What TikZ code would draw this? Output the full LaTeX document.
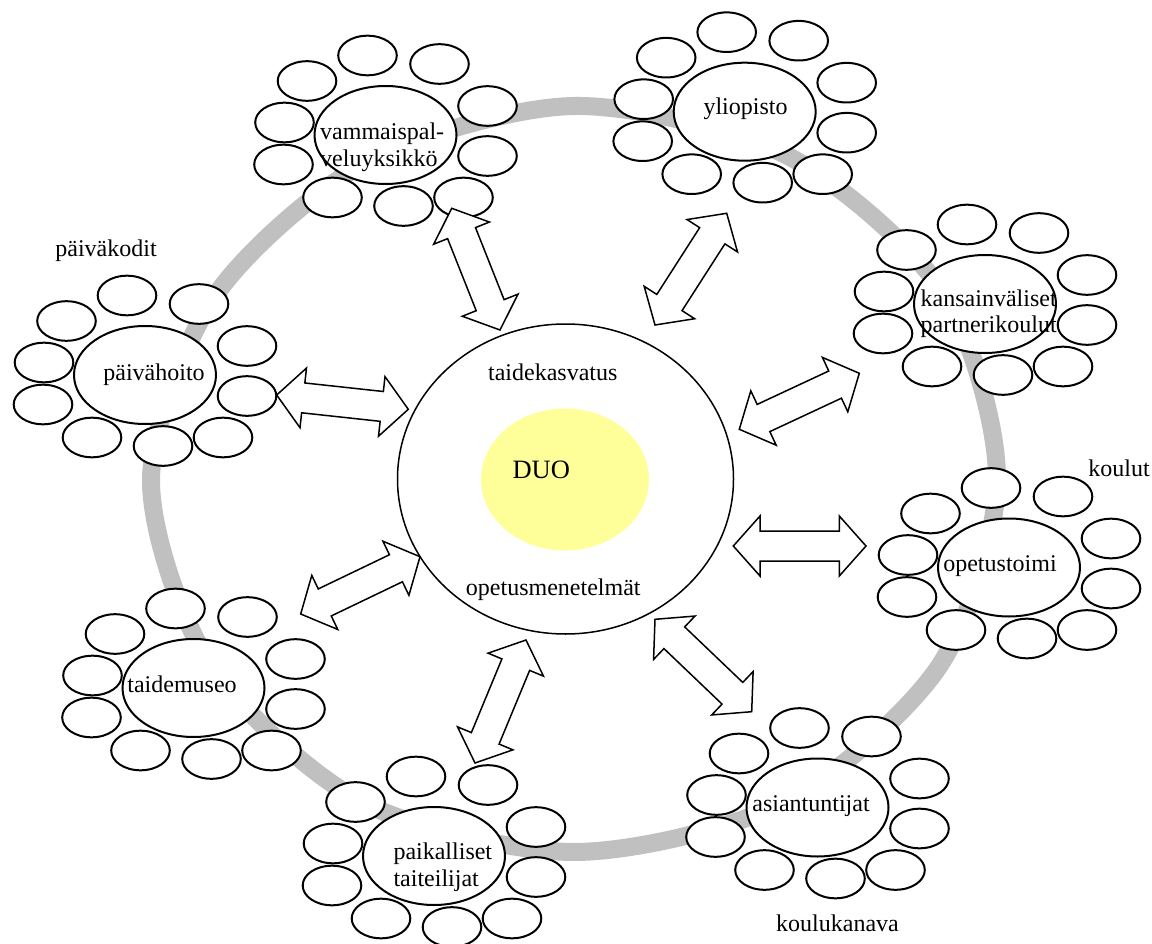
\documentclass[tikz,border=0pt]{standalone}
\usepackage{fontspec}
\setmainfont{Liberation Serif}
\usetikzlibrary{calc,shapes.geometric}

\definecolor{ringgray}{RGB}{192,192,192}
\definecolor{duoyellow}{RGB}{255,255,153}

% head length, head half width, shaft half width of the double arrows
\newcommand\ahl{26.7pt}
\newcommand\ahw{30pt}
\newcommand\asw{15pt}

\tikzset{
  ring/.style={draw=ringgray, line width=18pt},
  satellite/.style={draw, line width=2pt, fill=white},
  hub/.style={draw, line width=2pt, fill=white, ellipse, inner sep=0pt,
              minimum width=142pt, minimum height=98pt},
  txt/.style={font=\fontsize{24}{27}\selectfont, inner sep=0pt},
  arrowbox/.style={draw, line width=1.5pt, fill=white, line join=miter},
  pics/cluster/.style={code={
    \foreach \dx/\dy in {-78.5/-54, -18/-79.5, 54/-71, 102/-29, 102/21,
                         78/62.5, 18/71, -53/62.5, -102/29.5, -101/-12.5}
      \draw[satellite] (\dx,\dy) ellipse [x radius=29.3, y radius=19.8];
    \node[hub] (-hub) at (0,0) {};
  }}
}

% outlined double-headed block arrow between two named points
\newcommand\biarrow[2]{%
  \draw[arrowbox]
    (#1)
    -- ($(#1)!\ahl!(#2)!\ahw!90:(#2)$)
    -- ($(#1)!\ahl!(#2)!\asw!90:(#2)$)
    -- ($(#2)!\ahl!(#1)!\asw!-90:(#1)$)
    -- ($(#2)!\ahl!(#1)!\ahw!-90:(#1)$)
    -- (#2)
    -- ($(#2)!\ahl!(#1)!\ahw!90:(#1)$)
    -- ($(#2)!\ahl!(#1)!\asw!90:(#1)$)
    -- ($(#1)!\ahl!(#2)!\asw!-90:(#2)$)
    -- ($(#1)!\ahl!(#2)!\ahw!-90:(#2)$)
    -- cycle;}

\begin{document}
\begin{tikzpicture}[x=1pt, y=-1pt]
  \useasboundingbox (0,0) rectangle (1152,944);
  \fill[white] (0,0) rectangle (1152,944);

  % grey ring joining the partners
  \draw[ring] plot[smooth cycle] coordinates {
    (574,106) (786,155) (942,291) (997,479) (940,665) (785,802)
    (574,852) (362,802) (210,664) (151,479) (215,296) (367,162)};

  % partner clusters
  \pic (vam) at (385.5,135)   {cluster};
  \pic (yli) at (744.7,111.7) {cluster};
  \pic (kan) at (985,304)     {cluster};
  \pic (pvh) at (145,375)     {cluster};
  \pic (ope) at (1009,567.5)  {cluster};
  \pic (tmu) at (193.5,688)   {cluster};
  \pic (pai) at (434,856)     {cluster};
  \pic (asi) at (817.5,807.5) {cluster};

  % centre
  \node[draw, ellipse, line width=1.5pt, fill=white, inner sep=0pt,
        minimum width=336pt, minimum height=310pt] (duo) at (565.5,479) {};
  \node[ellipse, fill=duoyellow, inner sep=0pt,
        minimum width=168pt, minimum height=142pt] (core) at (565,479.5) {};

  \node[txt, anchor=base] (taide) at (552.8,380) {taidekasvatus};
  \node[txt, font=\fontsize{26.5}{30}\selectfont, anchor=base] (duotext) at (541.3,478) {DUO};
  \node[txt, anchor=base] (menet) at (553.3,595) {opetusmenetelmät};

  % cluster labels (two-line labels are anchored at their last baseline)
  \node[txt, anchor=base] (l-pvh) at (154,380) {päivähoito};
  \node[txt, anchor=base] (l-yli) at (745.5,115) {yliopisto};
  \node[txt, anchor=base] (l-ope) at (1000,571.7) {opetustoimi};
  \node[txt, anchor=base] (l-tmu) at (182,692) {taidemuseo};
  \node[txt, anchor=base] (l-asi) at (811,811) {asiantuntijat};
  \node[txt, align=left, anchor=base west] (l-kan) at (920.5,333) {kansainväliset\\partnerikoulut};
  \node[txt, align=left, anchor=base west] (l-pai) at (393.3,886.5) {paikalliset\\taiteilijat};
  \node[txt, align=left, anchor=base west] (l-vam) at (320,167) {vammaispal-\\veluyksikkö};

  \node[txt, anchor=base] (l-pk) at (106,257) {päiväkodit};
  \node[txt, anchor=base] (l-ko) at (1119,476) {koulut};
  \node[txt, anchor=base] (l-kk) at (837.5,931) {koulukanava};

  % arrow end points
  \coordinate (vamA) at (451.7,208.3); \coordinate (vamB) at (500,330);
  \coordinate (yliA) at (726.7,213.3); \coordinate (yliB) at (655,325);
  \coordinate (pvhA) at (276.7,395);   \coordinate (pvhB) at (408.3,409.3);
  \coordinate (tmuA) at (300.7,614);   \coordinate (tmuB) at (420,556.7);
  \coordinate (kanA) at (859.3,373.3); \coordinate (kanB) at (739.3,429.3);
  \coordinate (opeA) at (866,546);     \coordinate (opeB) at (733.3,546);
  \coordinate (asiA) at (751.7,711.7); \coordinate (asiB) at (655,619.3);
  \coordinate (paiA) at (475,763);     \coordinate (paiB) at (526,640);

  \biarrow{vamA}{vamB}
  \biarrow{yliA}{yliB}
  \biarrow{pvhA}{pvhB}
  \biarrow{tmuA}{tmuB}
  \biarrow{kanA}{kanB}
  \biarrow{opeA}{opeB}
  \biarrow{asiA}{asiB}
  \biarrow{paiA}{paiB}
\end{tikzpicture}
\end{document}
